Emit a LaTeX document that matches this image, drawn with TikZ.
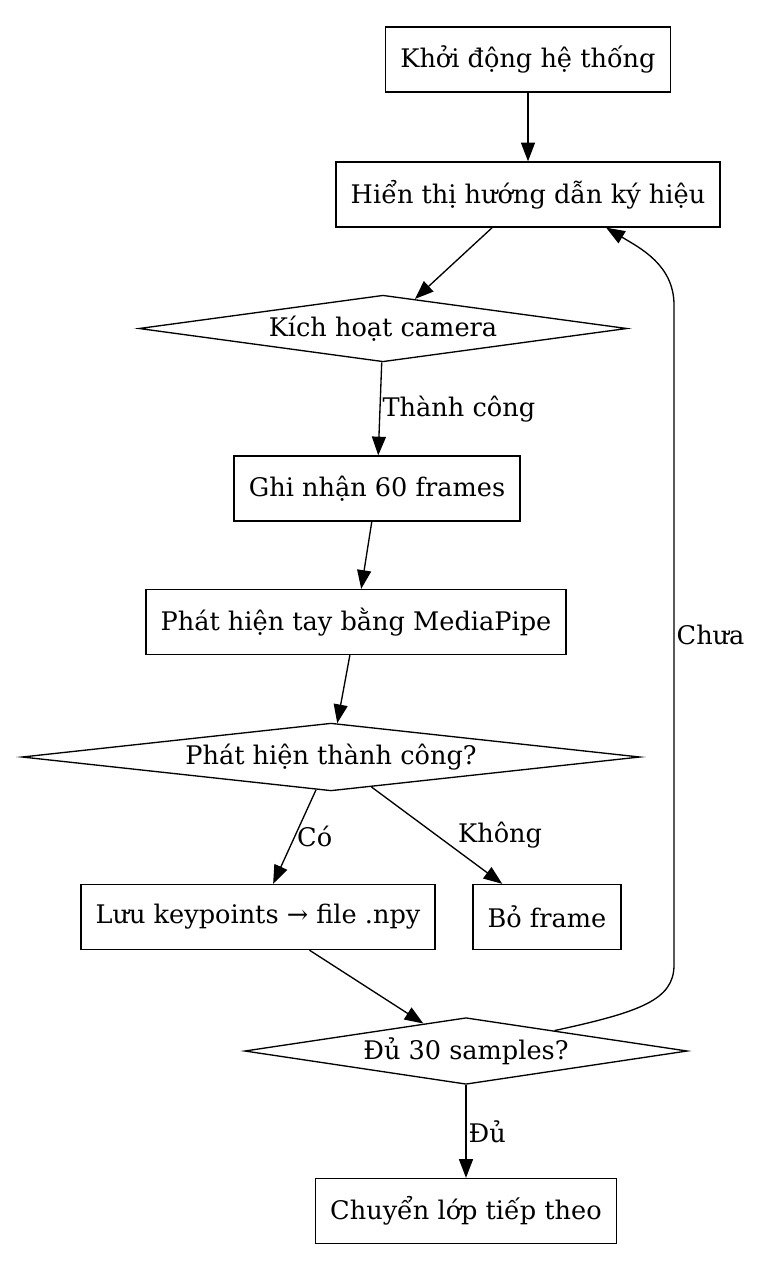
\documentclass[tikz,border=0pt]{standalone}
\usepackage{fontspec}
\setmainfont{DejaVu Serif}
\usetikzlibrary{positioning,arrows.meta,shapes.geometric,calc}

\begin{document}
\begin{tikzpicture}[
  x=0.75pt, y=-0.75pt,
  font=\fontsize{19.2}{23}\selectfont,
  box/.style={draw, line width=1pt, minimum height=48.75pt,
              inner xsep=11pt, inner ysep=0pt},
  dec/.style={diamond, draw, line width=1pt, aspect=7, inner sep=0pt,
              minimum height=50pt},
  flow/.style={-{Triangle[length=14pt,width=10.5pt]}, line width=1pt},
  lbl/.style={inner sep=1.5pt},
]
\useasboundingbox (0,0) rectangle (769,1272);

% ---------------- NODES (absolute grid, px) ----------------
\node[box] (START) at (528,59.5) {Khởi động hệ thống};
\node[box] (GUIDE) at (528,194.5) {Hiển thị hướng dẫn ký hiệu};
\node[dec, minimum width=366pt] (CAM) at (383,328.5) {Kích hoạt camera};
\node[box] (REC) at (377,488.5) {Ghi nhận 60 frames};
\node[box] (DETECT) at (356,622) {Phát hiện tay bằng MediaPipe};
\node[dec, minimum width=463.5pt] (OK) at (331,757) {Phát hiện thành công?};
\node[box] (SAVE) at (258,917) {Lưu keypoints → file .npy};
\node[box] (DROP) at (547,917) {Bỏ frame};
\node[dec, minimum width=332pt] (ENOUGH) at (466,1051) {Đủ 30 samples?};
\node[box] (NEXT) at (466,1211) {Chuyển lớp tiếp theo};

% ---------------- EDGES ----------------
\draw[flow] (START) -- (GUIDE);
\draw[flow] (GUIDE) -- (CAM);
\draw[flow] (CAM) -- (REC) node[lbl, midway, right]{Thành công};
\draw[flow] (REC) -- (DETECT);
\draw[flow] (DETECT) -- (OK);
\draw[flow] (OK) -- (SAVE) node[lbl, midway, right]{Có};
\draw[flow] (OK) -- (DROP) node[lbl, midway, anchor=west, xshift=14pt]{Không};
\draw[flow] (SAVE) -- (ENOUGH);
\draw[flow] (ENOUGH) -- (NEXT) node[lbl, midway, right]{Đủ};
% not enough samples: back to the guide (right lane)
\draw[flow] (ENOUGH.13) .. controls (640,1012) and (674,1000) .. (674,965)
  -- (674,305) node[lbl, pos=0.5, right]{Chưa}
  .. controls (674,265) and (640,248) .. (GUIDE.-23.4);
\end{tikzpicture}
\end{document}
